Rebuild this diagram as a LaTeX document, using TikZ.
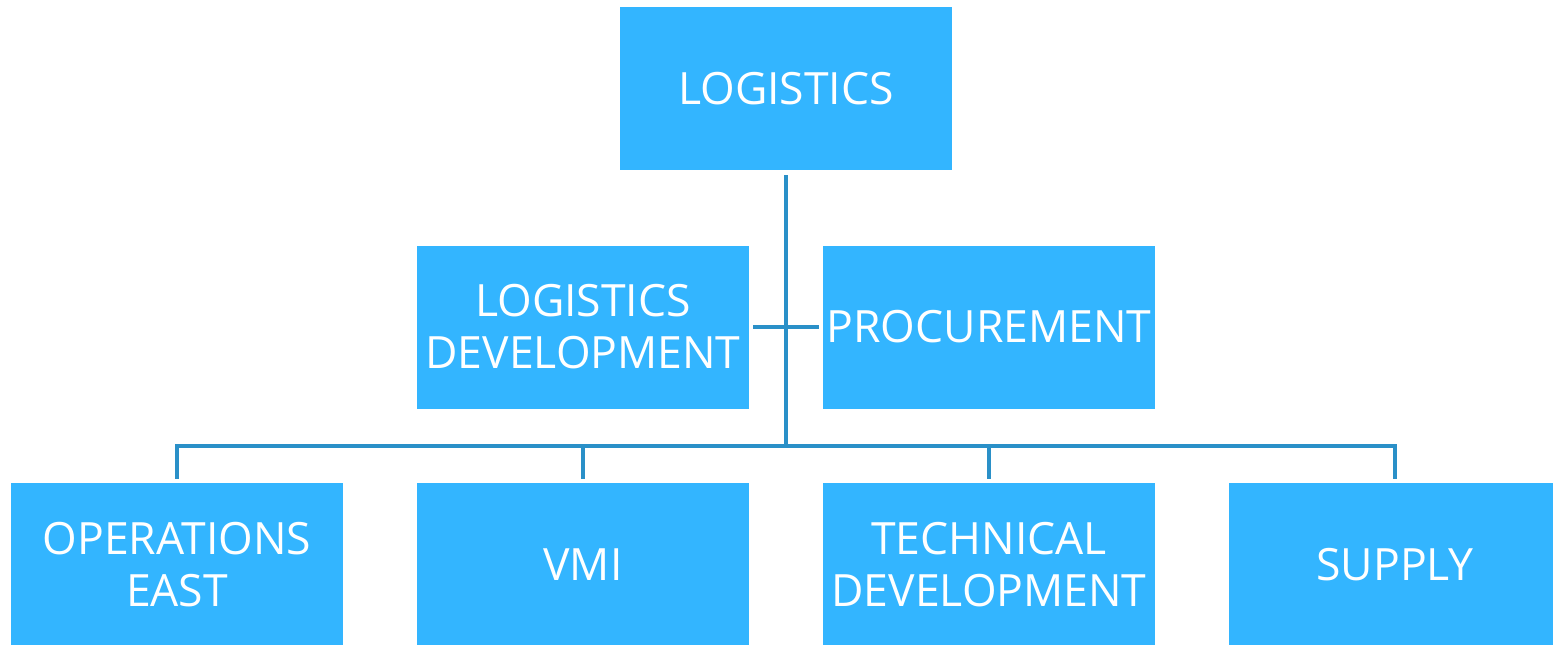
\documentclass[tikz,border=0pt]{standalone}
\usepackage{fontspec}
\setmainfont{Open Sans}
\definecolor{boxblue}{HTML}{33B5FF}
\definecolor{lineblue}{HTML}{2A90C8}

\begin{document}
\begin{tikzpicture}[x=1pt,y=-1pt]
	\tikzstyle{unit}=[rectangle,fill=boxblue,text=white,minimum width=332pt,minimum height=163pt,inner sep=0pt,align=center,font=\fontsize{44.5}{52}\selectfont]
	\tikzstyle{link}=[draw=lineblue,line width=4pt]
	\useasboundingbox (0,0) rectangle (1553,645);

	% Head of department
	\node[unit] (top) at (786,88.5) {LOGISTICS};

	% Staff units beside the main line
	\node[unit] (dev) at (583,327) {LOGISTICS\\DEVELOPMENT};
	\node[unit] (proc) at (989,327) {PROCUREMENT};

	% Line units in the bottom row
	\foreach \name / \x / \txt in {1/177/{OPERATIONS\\EAST},2/583/VMI,3/989/{TECHNICAL\\DEVELOPMENT},4/1395/SUPPLY}
	\node[unit] (B-\name) at (\x,564.5) {\txt};

	% Connectors
	\coordinate (bus) at (786,446);
	\draw[link,shorten <=5pt] (top) -- (bus);
	\draw[link,shorten <=4pt,shorten >=4pt] (dev.east) -- (proc.west);
	\foreach \name in {1,...,4}
	\draw[link,shorten >=4pt] (bus) -| (B-\name.north);
\end{tikzpicture}
\end{document}
